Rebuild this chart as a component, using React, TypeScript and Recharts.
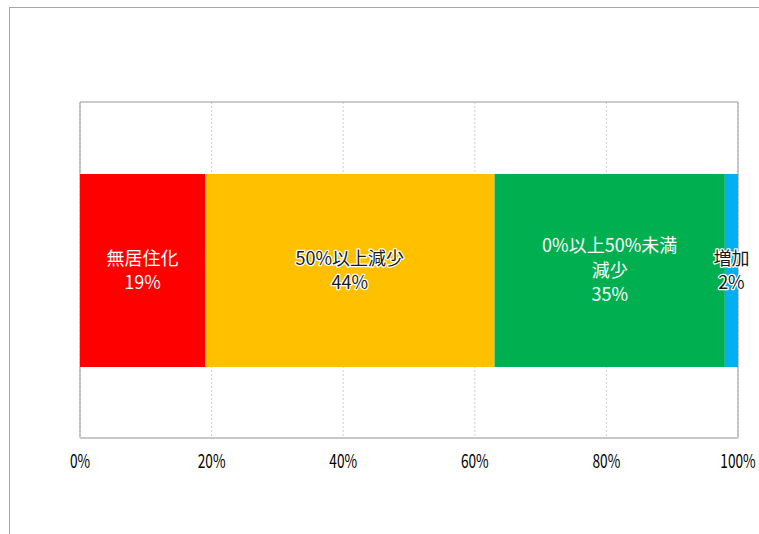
import React from "react";
import {
  BarChart,
  Bar,
  XAxis,
  YAxis,
  CartesianGrid,
  ReferenceArea,
  LabelList,
} from "recharts";

// 1本の100%積み上げ横棒
const CATEGORY = ["全体"];
const SERIES_NAMES = ["無居住化", "50%以上減少", "0%以上50%未満減少", "増加"];
const SERIES_VALUES = [19, 44, 35, 2];
const SERIES_LABEL_LINES = [
  ["無居住化"],
  ["50%以上減少"],
  ["0%以上50%未満", "減少"],
  ["増加"],
];
const TICKS = [0, 20, 40, 60, 80, 100];

const SERIES = [
  { key: "s0", fill: "#FF0000", text: "#FFFFFF", halo: false },
  { key: "s1", fill: "#FFC000", text: "#1a1a1a", halo: true },
  { key: "s2", fill: "#00B050", text: "#FFFFFF", halo: false },
  { key: "s3", fill: "#00B0F0", text: "#1a1a1a", halo: true },
];

const FONT = "'Noto Sans CJK JP', sans-serif";

const data = CATEGORY.map((c) => {
  const row: Record<string, string | number> = { name: c };
  SERIES_VALUES.forEach((v, i) => {
    row[`s${i}`] = v;
  });
  return row;
});

function makeLabel(i: number) {
  return (props: any) => {
    const { x, y, width, height } = props;
    const lines = [...SERIES_LABEL_LINES[i], `${SERIES_VALUES[i]}%`];
    const lh = 24.5;
    const cx = Number(x) + Number(width) / 2;
    const cy = Number(y) + Number(height) / 2;
    const y0 = cy - ((lines.length - 1) * lh) / 2;
    const s = SERIES[i];
    return (
      <text
        textAnchor="middle"
        fontFamily={FONT}
        fontSize={18}
        fill={s.text}
        stroke={s.halo ? "#FFFFFF" : "none"}
        strokeWidth={s.halo ? 2.5 : 0}
        strokeLinejoin="round"
        style={{ paintOrder: "stroke" }}
      >
        {lines.map((l, k) => (
          <tspan key={k} x={cx} y={y0 + k * lh} dy="0.35em">
            {l}
          </tspan>
        ))}
      </text>
    );
  };
}

function Tick(props: any) {
  const { x, y, payload } = props;
  return (
    <text
      x={0}
      y={0}
      textAnchor="middle"
      fontFamily={FONT}
      fontSize={19}
      fill="#000"
      transform={`translate(${x} ${y + 16}) scale(0.72 1)`}
    >
      {`${payload.value}%`}
    </text>
  );
}

export default function App() {
  return (
    <div
      style={{
        position: "absolute",
        left: 0,
        top: 0,
        width: 759,
        height: 534,
        background: "#fff",
      }}
    >
      <div
        style={{
          position: "absolute",
          left: 9,
          top: 7,
          width: 760,
          height: 540,
          borderTop: "1px solid #a6a6a6",
          borderLeft: "1px solid #a6a6a6",
        }}
      />
      <div style={{ position: "absolute", left: 0, top: 0 }}>
        <BarChart
          width={759}
          height={534}
          data={data}
          layout="vertical"
          margin={{ top: 102, right: 21, bottom: 66, left: 80 }}
        >
          <CartesianGrid
            horizontal={false}
            stroke="#d0d0d0"
            strokeDasharray="2 2"
          />
          <XAxis
            type="number"
            domain={[0, 100]}
            ticks={TICKS}
            axisLine={{ stroke: "#c8c8c8", strokeWidth: 2 }}
            tickLine={false}
            height={30}
            tick={<Tick />}
            tickMargin={8}
          />
          <YAxis type="category" dataKey="name" hide />
          <ReferenceArea
            x1={0}
            x2={100}
            fill="none"
            stroke="#999"
            strokeWidth={1}
            ifOverflow="visible"
          />
          {SERIES.map((s, i) => (
            <Bar
              key={s.key}
              dataKey={s.key}
              name={SERIES_NAMES[i]}
              stackId="a"
              fill={s.fill}
              barSize={193}
              isAnimationActive={false}
            >
              <LabelList dataKey={s.key} content={makeLabel(i)} />
            </Bar>
          ))}
        </BarChart>
      </div>
    </div>
  );
}
